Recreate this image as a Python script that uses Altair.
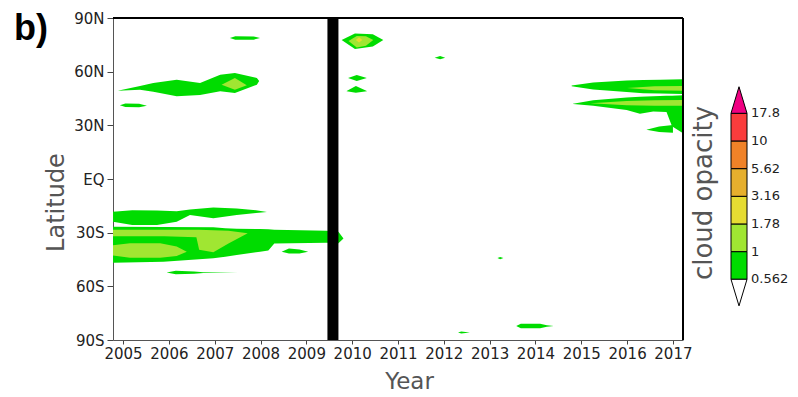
import altair as alt
import pandas as pd

# ---------------- axis / scale data ----------------
X_MIN, X_MAX = 2004.78, 2017.22
YEAR_TICKS = [2005, 2006, 2007, 2008, 2009, 2010, 2011, 2012, 2013, 2014, 2015, 2016, 2017]
LAT_TICKS = [90, 60, 30, 0, -30, -60, -90]
LAT_LABELS = ["90N", "60N", "30N", "EQ", "30S", "60S", "90S"]

# contour levels of the colour bar
LEVEL_LABELS = ["0.562", "1", "1.78", "3.16", "5.62", "10", "17.8"]
BAND_NAMES = ["<0.562", "0.562-1", "1-1.78", "1.78-3.16", "3.16-5.62", "5.62-10", "10-17.8", ">17.8"]
BAND_COLORS = ["#ffffff", "#00dc00", "#a0e632", "#e6dc32", "#e6af2d", "#f08228", "#fa3c3c", "#f00082"]

# missing-data gap (black bar)
GAP_START = [2009.46]
GAP_END = [2009.70]

# ---------------- contour patches (year, lower lat, upper lat, band) ----------------
NH_A = dict(band=1, year=[2004.88, 2005.37, 2005.66, 2006.17, 2006.68, 2007.12, 2007.44, 2007.92, 2007.97],
            lo=[49.4, 49.9, 48.8, 46.2, 47.0, 49.0, 48.1, 52.7, 54.8],
            hi=[49.4, 52.0, 53.7, 55.5, 53.7, 58.3, 59.3, 56.5, 54.8])
NH_A_IN = dict(band=2, year=[2007.15, 2007.44, 2007.70], lo=[52.7, 49.9, 52.4], hi=[52.7, 56.5, 52.4])
NH_B = dict(band=1, year=[2007.33, 2007.45, 2007.85, 2007.99], lo=[78.8, 77.8, 77.9, 78.8], hi=[78.8, 79.8, 79.7, 78.8])
NH_C = dict(band=1, year=[2004.93, 2005.05, 2005.35, 2005.52], lo=[41.2, 40.2, 40.1, 41.0], hi=[41.2, 42.2, 42.0, 41.0])
SH_D = dict(band=1, year=[2004.78, 2005.2, 2005.74, 2006.17, 2006.46, 2006.97, 2007.48, 2007.9, 2008.14],
            lo=[-23.9, -25.7, -25.7, -23.9, -20.1, -22.0, -20.1, -19.0, -18.5],
            hi=[-18.3, -17.5, -17.6, -18.0, -17.0, -16.0, -16.5, -17.5, -18.5])
SH_E = dict(band=1, year=[2004.78, 2005.88, 2006.97, 2007.23, 2007.48, 2007.99, 2008.17, 2008.30, 2009.44, 2009.70, 2009.81],
            lo=[-46.8, -46.2, -44.3, -43.5, -42.5, -40.6, -40.0, -36.0, -35.7, -35.9, -33.2],
            hi=[-26.7, -26.8, -27.0, -27.6, -27.8, -28.0, -28.1, -28.3, -28.9, -29.5, -33.2])
SH_F1 = dict(band=2, year=[2004.78, 2005.9, 2006.6, 2006.66, 2006.97, 2007.3, 2007.72],
             lo=[-32.0, -32.0, -32.5, -39.5, -41.0, -36.0, -30.3],
             hi=[-28.3, -28.3, -28.3, -28.4, -28.6, -28.9, -30.3])
SH_F2 = dict(band=2, year=[2004.78, 2005.15, 2005.81, 2006.17, 2006.39],
             lo=[-42.8, -44.0, -44.0, -43.0, -40.6], hi=[-37.0, -35.9, -35.9, -37.8, -40.6])
SH_G = dict(band=1, year=[2008.46, 2008.62, 2008.85, 2009.04], lo=[-40.6, -41.6, -41.6, -40.6], hi=[-40.6, -38.8, -39.4, -40.6])
SH_H = dict(band=1, year=[2005.95, 2006.15, 2006.55, 2006.75, 2007.5],
            lo=[-52.2, -53.2, -53.0, -52.6, -52.4], hi=[-52.2, -51.3, -51.7, -52.1, -52.4])
NH_I = dict(band=1, year=[2009.77, 2010.06, 2010.45, 2010.68], lo=[77.7, 72.7, 74.0, 77.7], hi=[77.7, 81.4, 80.9, 77.7])
NH_I_IN = dict(band=2, year=[2009.92, 2010.1, 2010.3, 2010.46], lo=[77.2, 73.5, 74.5, 77.7], hi=[77.2, 80.0, 79.8, 77.7])
NH_I_CORE = dict(band=3, year=[2010.08, 2010.15, 2010.22], lo=[77.7, 76.3, 77.7], hi=[77.7, 79.2, 77.7])
NH_J = dict(band=1, year=[2009.91, 2010.1, 2010.32], lo=[56.5, 54.8, 56.5], hi=[56.5, 58.2, 56.5])
NH_K = dict(band=1, year=[2009.88, 2010.08, 2010.32], lo=[49.0, 48.2, 49.0], hi=[49.2, 52.0, 49.2])
NH_L = dict(band=1, year=[2011.80, 2011.92, 2012.03], lo=[67.8, 67.0, 67.8], hi=[67.8, 68.7, 67.8])
NH_M = dict(band=1, year=[2014.79, 2015.26, 2015.99, 2016.35, 2016.72, 2017.22],
            lo=[51.8, 50.0, 48.6, 48.0, 47.8, 47.5], hi=[52.2, 54.0, 55.0, 55.3, 55.5, 55.8])
NH_M_IN = dict(band=2, year=[2016.0, 2016.6, 2017.22], lo=[50.8, 49.6, 49.3], hi=[50.8, 51.8, 52.0])
NH_N = dict(band=1, year=[2014.82, 2015.26, 2015.99, 2016.28, 2016.57, 2016.86, 2016.98, 2017.22],
            lo=[41.9, 41.0, 38.6, 36.5, 37.8, 37.5, 29.5, 25.6], hi=[42.1, 44.0, 45.5, 46.0, 46.3, 46.5, 46.6, 46.8])
NH_N_IN = dict(band=2, year=[2015.2, 2015.99, 2016.6, 2017.22], lo=[42.3, 41.2, 41.0, 40.9], hi=[42.3, 43.6, 44.0, 44.2])
NH_TAIL = dict(band=1, year=[2016.42, 2016.7, 2017.0], lo=[27.5, 26.3, 25.8], hi=[27.5, 29.3, 30.2])
SH_O = dict(band=1, year=[2013.58, 2013.68, 2014.1, 2014.25, 2014.40], lo=[-82.2, -83.4, -83.4, -82.6, -82.2], hi=[-82.2, -80.9, -80.9, -81.7, -82.2])
SH_P = dict(band=1, year=[2012.31, 2012.38, 2012.57], lo=[-85.8, -86.4, -85.8], hi=[-85.8, -85.2, -85.8])
SH_Q = dict(band=1, year=[2013.17, 2013.23, 2013.30], lo=[-44.2, -44.8, -44.2], hi=[-44.2, -43.6, -44.2])

PATCHES = {"NH_A": NH_A, "NH_A_IN": NH_A_IN, "NH_B": NH_B, "NH_C": NH_C, "SH_D": SH_D, "SH_E": SH_E,
           "SH_F1": SH_F1, "SH_F2": SH_F2, "SH_G": SH_G, "SH_H": SH_H, "NH_I": NH_I, "NH_I_IN": NH_I_IN,
           "NH_I_CORE": NH_I_CORE, "NH_J": NH_J, "NH_K": NH_K, "NH_L": NH_L, "NH_M": NH_M, "NH_M_IN": NH_M_IN,
           "NH_N": NH_N, "NH_N_IN": NH_N_IN, "NH_TAIL": NH_TAIL, "SH_O": SH_O, "SH_P": SH_P, "SH_Q": SH_Q}

rows = []
for name, p in PATCHES.items():
    for yr, lo, hi in zip(p["year"], p["lo"], p["hi"]):
        rows.append(dict(blob=name, band=p["band"], band_name=BAND_NAMES[p["band"]], year=yr, lo=lo, hi=hi))
df = pd.DataFrame(rows)

gap_df = pd.DataFrame(dict(year=GAP_START, year2=GAP_END, lo=[-90], hi=[90]))

# ---------------- shared encodings ----------------
FONT = "DejaVu Sans"
label_expr = ""
for v, t in zip(LAT_TICKS, LAT_LABELS):
    label_expr += f"datum.value == {v} ? '{t}' : "
label_expr += "''"

color_scale = alt.Scale(domain=BAND_NAMES, range=BAND_COLORS)

x_enc = alt.X("year:Q", scale=alt.Scale(domain=[X_MIN, X_MAX], nice=False, zero=False),
              axis=alt.Axis(values=YEAR_TICKS, format="d", grid=False, labelFont=FONT, labelFontSize=15,
                            labelColor="#222", tickColor="#444", domainColor="#555", tickSize=4,
                            labelPadding=2, labelFlush=False, title="Year", titleFont=FONT,
                            titleFontSize=23, titleFontWeight="normal", titleColor="#555",
                            titleX=296, titleY=48, titleBaseline="alphabetic", titleAlign="center"))
y_enc = alt.Y("lo:Q", scale=alt.Scale(domain=[-90, 90], nice=False, zero=False),
              axis=alt.Axis(values=LAT_TICKS, labelExpr=label_expr, grid=False, labelFont=FONT,
                            labelFontSize=15, labelColor="#222", tickColor="#444", domainColor="#555",
                            tickSize=6, labelPadding=3, title="Latitude", titleFont=FONT,
                            titleFontSize=24, titleFontWeight="normal", titleColor="#555",
                            titleX=-57, titleY=184, titleAngle=270, titleBaseline="middle",
                            titleAlign="center"))
c_enc = alt.Color("band_name:N", scale=color_scale, legend=None)

layers = []
for band in [1, 2, 3]:
    layers.append(
        alt.Chart(df).transform_filter(alt.datum.band == band)
        .mark_area(interpolate="linear")
        .encode(x=x_enc, y=y_enc, y2="hi:Q", color=c_enc, detail="blob:N")
    )

gap = alt.Chart(gap_df).mark_rect(color="black").encode(x=x_enc, x2="year2:Q", y=y_enc, y2="hi:Q")
one = pd.DataFrame(dict(t=["b)"]))
top_rule = alt.Chart(one).mark_rule(color="black", strokeWidth=2).encode(y=alt.datum(90))
right_rule = alt.Chart(one).mark_rule(color="black", strokeWidth=2).encode(x=alt.datum(X_MAX))
panel_label = alt.Chart(one).mark_text(font="Liberation Sans", fontSize=36, fontWeight="bold",
                                       align="left", baseline="alphabetic", color="black").encode(
    x=alt.value(-99), y=alt.value(22), text="t:N")

main = alt.layer(*layers, gap, top_rule, right_rule, panel_label)

# ---------------- colour bar ----------------
cb_boxes = pd.DataFrame(dict(cbx0=[0] * 6, cbx1=[1] * 6, cby0=list(range(6)), cby1=list(range(1, 7)),
                             band_name=BAND_NAMES[1:7]))
TRI_H = 0.96
cb_tris = pd.DataFrame(dict(tri=["top"] * 3 + ["bot"] * 3,
                            cbx0=[0, 0.5, 1, 0, 0.5, 1],
                            cby0=[6, 6 + TRI_H, 6, 0, -TRI_H, 0],
                            cby1=[6, 6, 6, 0, 0, 0],
                            band_name=[BAND_NAMES[7]] * 3 + [BAND_NAMES[0]] * 3))
cb_labels = pd.DataFrame(dict(cbx0=[1] * 7, cby0=list(range(7)), lab=LEVEL_LABELS))

cbx = alt.X("cbx0:Q", scale=alt.Scale(domain=[0, 1], range=[618, 634], nice=False, zero=False), axis=None)
cby = alt.Y("cby0:Q", scale=alt.Scale(domain=[0, 6], range=[261.3, 95.3], nice=False, zero=False), axis=None)

boxes = alt.Chart(cb_boxes).mark_rect(stroke="black", strokeWidth=1).encode(
    x=cbx, x2="cbx1:Q", y=cby, y2="cby1:Q", color=c_enc)
tris = alt.Chart(cb_tris).mark_area(stroke="black", strokeWidth=1, interpolate="linear").encode(
    x=cbx, y=cby, y2="cby1:Q", color=c_enc, detail="tri:N")
labels = alt.Chart(cb_labels).mark_text(font=FONT, fontSize=13, align="left", baseline="middle",
                                        dx=4, color="#222").encode(x=cbx, y=cby, text="lab:N")
cb_title = alt.Chart(pd.DataFrame(dict(t=["cloud opacity"]))).mark_text(
    font=FONT, fontSize=26, angle=270, align="center", baseline="middle", color="#555").encode(
    x=alt.value(591), y=alt.value(175), text="t:N")

cbar = alt.layer(boxes, tris, labels, cb_title)

chart = (
    alt.layer(main, cbar)
    .resolve_scale(x="independent", y="independent")
    .properties(width=570, height=322, autosize=alt.AutoSizeParams(type="none"),
                padding={"left": 105, "top": 10, "right": 107, "bottom": 56})
    .configure_view(stroke=None)
)

chart.save("out.html", embed_options={"renderer": "svg", "actions": False})
